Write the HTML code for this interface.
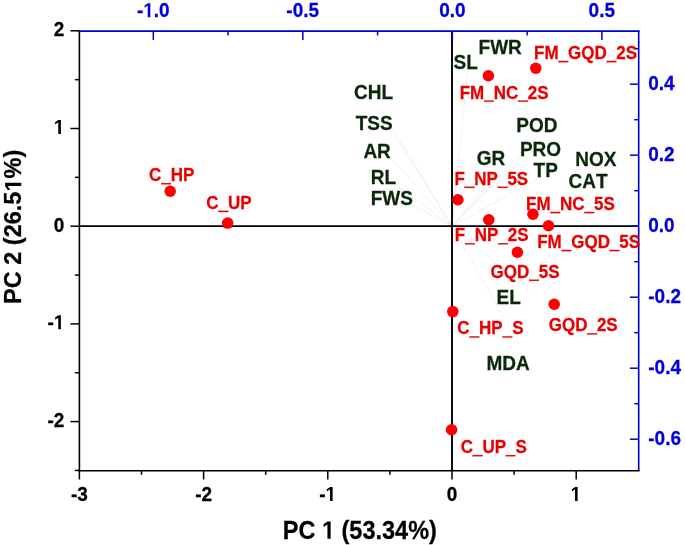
<!DOCTYPE html><html><head><meta charset="utf-8"><style>html,body{margin:0;padding:0;background:#fff;width:685px;height:545px;overflow:hidden}svg{display:block}text{font-family:"Liberation Sans",sans-serif;font-weight:bold;font-kerning:none}</style></head><body><svg style="will-change:transform" width="685" height="545" viewBox="0 0 685 545"><g stroke="#d6d6d6" stroke-width="0.6" stroke-dasharray="1.6,1.2" fill="none"><line x1="452.0" y1="226.2" x2="380.0" y2="107.0"/><line x1="452.0" y1="226.2" x2="392.0" y2="131.0"/><line x1="452.0" y1="226.2" x2="390.0" y2="157.0"/><line x1="452.0" y1="226.2" x2="395.0" y2="184.0"/><line x1="452.0" y1="226.2" x2="411.0" y2="204.0"/><line x1="452.0" y1="226.2" x2="467.5" y2="73.5"/><line x1="452.0" y1="226.2" x2="538.0" y2="135.5"/><line x1="452.0" y1="226.2" x2="520.0" y2="158.0"/><line x1="452.0" y1="226.2" x2="541.0" y2="177.0"/><line x1="452.0" y1="226.2" x2="505.0" y2="164.0"/><line x1="452.0" y1="226.2" x2="532.0" y2="294.0"/><line x1="452.0" y1="226.2" x2="519.0" y2="344.0"/></g><line x1="79.40" y1="226.20" x2="638.70" y2="226.20" stroke="#000" stroke-width="1.7"/><line x1="452.00" y1="31.10" x2="452.00" y2="470.80" stroke="#000" stroke-width="1.9"/><line x1="79.40" y1="31.10" x2="79.40" y2="471.70" stroke="#000" stroke-width="1.6"/><line x1="638.70" y1="31.10" x2="638.70" y2="470.80" stroke="#0000cc" stroke-width="1.6"/><line x1="78.50" y1="31.10" x2="639.60" y2="31.10" stroke="#0000cc" stroke-width="1.6"/><line x1="78.50" y1="470.80" x2="639.60" y2="470.80" stroke="#000" stroke-width="1.6"/><line x1="79.40" y1="470.80" x2="79.40" y2="479.50" stroke="#000" stroke-width="1.5"/><g transform="translate(70.93,500.90) scale(1,1.070)" fill="#000" stroke="#000" stroke-width="0.25"><text x="0.000" y="0" font-size="19.0">-3</text></g><line x1="141.50" y1="470.80" x2="141.50" y2="474.80" stroke="#000" stroke-width="1.5"/><line x1="203.60" y1="470.80" x2="203.60" y2="479.50" stroke="#000" stroke-width="1.5"/><g transform="translate(195.16,500.90) scale(1,1.070)" fill="#000" stroke="#000" stroke-width="0.25"><text x="0.000" y="0" font-size="19.0">-2</text></g><line x1="265.70" y1="470.80" x2="265.70" y2="474.80" stroke="#000" stroke-width="1.5"/><line x1="327.80" y1="470.80" x2="327.80" y2="479.50" stroke="#000" stroke-width="1.5"/><g transform="translate(319.25,500.90) scale(1,1.070)" fill="#000" stroke="#000" stroke-width="0.25"><text x="0.000" y="0" font-size="19.0">-<tspan visibility="hidden">1</tspan></text><path transform="translate(6.327,0) scale(0.00928,-0.00928)" d="M478,0 L478,1170 L140,959 L140,1180 L493,1409 L759,1409 L759,0 Z"/></g><line x1="389.90" y1="470.80" x2="389.90" y2="474.80" stroke="#000" stroke-width="1.5"/><line x1="452.00" y1="470.80" x2="452.00" y2="479.50" stroke="#000" stroke-width="1.5"/><g transform="translate(446.73,500.90) scale(1,1.070)" fill="#000" stroke="#000" stroke-width="0.25"><text x="0.000" y="0" font-size="19.0">0</text></g><line x1="514.10" y1="470.80" x2="514.10" y2="474.80" stroke="#000" stroke-width="1.5"/><line x1="576.20" y1="470.80" x2="576.20" y2="479.50" stroke="#000" stroke-width="1.5"/><g transform="translate(570.58,500.90) scale(1,1.070)" fill="#000" stroke="#000" stroke-width="0.25"><text x="0.000" y="0" font-size="19.0"><tspan visibility="hidden">1</tspan></text><path transform="translate(0.000,0) scale(0.00928,-0.00928)" d="M478,0 L478,1170 L140,959 L140,1180 L493,1409 L759,1409 L759,0 Z"/></g><line x1="79.40" y1="470.45" x2="74.90" y2="470.45" stroke="#000" stroke-width="1.5"/><line x1="79.40" y1="421.60" x2="70.40" y2="421.60" stroke="#000" stroke-width="1.5"/><g transform="translate(64.40,427.00) scale(1,1.070)" fill="#000" stroke="#000" stroke-width="0.25"><text x="-16.894" y="0" font-size="19.0">-2</text></g><line x1="79.40" y1="372.75" x2="74.90" y2="372.75" stroke="#000" stroke-width="1.5"/><line x1="79.40" y1="323.90" x2="70.40" y2="323.90" stroke="#000" stroke-width="1.5"/><g transform="translate(64.40,329.30) scale(1,1.070)" fill="#000" stroke="#000" stroke-width="0.25"><text x="-16.894" y="0" font-size="19.0">-<tspan visibility="hidden">1</tspan></text><path transform="translate(-10.567,0) scale(0.00928,-0.00928)" d="M478,0 L478,1170 L140,959 L140,1180 L493,1409 L759,1409 L759,0 Z"/></g><line x1="79.40" y1="275.05" x2="74.90" y2="275.05" stroke="#000" stroke-width="1.5"/><line x1="79.40" y1="226.20" x2="70.40" y2="226.20" stroke="#000" stroke-width="1.5"/><g transform="translate(64.40,231.60) scale(1,1.070)" fill="#000" stroke="#000" stroke-width="0.25"><text x="-10.567" y="0" font-size="19.0">0</text></g><line x1="79.40" y1="177.35" x2="74.90" y2="177.35" stroke="#000" stroke-width="1.5"/><line x1="79.40" y1="128.50" x2="70.40" y2="128.50" stroke="#000" stroke-width="1.5"/><g transform="translate(64.40,133.90) scale(1,1.070)" fill="#000" stroke="#000" stroke-width="0.25"><text x="-10.567" y="0" font-size="19.0"><tspan visibility="hidden">1</tspan></text><path transform="translate(-10.567,0) scale(0.00928,-0.00928)" d="M478,0 L478,1170 L140,959 L140,1180 L493,1409 L759,1409 L759,0 Z"/></g><line x1="79.40" y1="79.65" x2="74.90" y2="79.65" stroke="#000" stroke-width="1.5"/><line x1="79.40" y1="30.80" x2="70.40" y2="30.80" stroke="#000" stroke-width="1.5"/><g transform="translate(64.40,36.20) scale(1,1.070)" fill="#000" stroke="#000" stroke-width="0.25"><text x="-10.567" y="0" font-size="19.0">2</text></g><line x1="153.30" y1="31.10" x2="153.30" y2="39.90" stroke="#0000cc" stroke-width="1.5"/><g transform="translate(136.95,17.20) scale(1,1.070)" fill="#0000dc" stroke="#0000dc" stroke-width="0.25"><text x="0.000" y="0" font-size="19.0">-<tspan visibility="hidden">1</tspan>.0</text><path transform="translate(6.327,0) scale(0.00928,-0.00928)" d="M478,0 L478,1170 L140,959 L140,1180 L493,1409 L759,1409 L759,0 Z"/></g><line x1="228.07" y1="31.10" x2="228.07" y2="35.50" stroke="#0000cc" stroke-width="1.5"/><line x1="302.84" y1="31.10" x2="302.84" y2="39.90" stroke="#0000cc" stroke-width="1.5"/><g transform="translate(286.36,17.20) scale(1,1.070)" fill="#0000dc" stroke="#0000dc" stroke-width="0.25"><text x="0.000" y="0" font-size="19.0">-0.5</text></g><line x1="377.60" y1="31.10" x2="377.60" y2="35.50" stroke="#0000cc" stroke-width="1.5"/><line x1="452.37" y1="31.10" x2="452.37" y2="39.90" stroke="#0000cc" stroke-width="1.5"/><g transform="translate(439.18,17.20) scale(1,1.070)" fill="#0000dc" stroke="#0000dc" stroke-width="0.25"><text x="0.000" y="0" font-size="19.0">0.0</text></g><line x1="527.14" y1="31.10" x2="527.14" y2="35.50" stroke="#0000cc" stroke-width="1.5"/><line x1="601.90" y1="31.10" x2="601.90" y2="39.90" stroke="#0000cc" stroke-width="1.5"/><g transform="translate(588.59,17.20) scale(1,1.070)" fill="#0000dc" stroke="#0000dc" stroke-width="0.25"><text x="0.000" y="0" font-size="19.0">0.5</text></g><line x1="638.70" y1="439.20" x2="629.90" y2="439.20" stroke="#0000cc" stroke-width="1.5"/><g transform="translate(648.26,444.60) scale(1,1.070)" fill="#0000dc" stroke="#0000dc" stroke-width="0.25"><text x="0.000" y="0" font-size="19.0">-0.6</text></g><line x1="638.70" y1="403.70" x2="634.30" y2="403.70" stroke="#0000cc" stroke-width="1.5"/><line x1="638.70" y1="368.20" x2="629.90" y2="368.20" stroke="#0000cc" stroke-width="1.5"/><g transform="translate(648.26,373.60) scale(1,1.070)" fill="#0000dc" stroke="#0000dc" stroke-width="0.25"><text x="0.000" y="0" font-size="19.0">-0.4</text></g><line x1="638.70" y1="332.70" x2="634.30" y2="332.70" stroke="#0000cc" stroke-width="1.5"/><line x1="638.70" y1="297.20" x2="629.90" y2="297.20" stroke="#0000cc" stroke-width="1.5"/><g transform="translate(648.26,302.60) scale(1,1.070)" fill="#0000dc" stroke="#0000dc" stroke-width="0.25"><text x="0.000" y="0" font-size="19.0">-0.2</text></g><line x1="638.70" y1="261.70" x2="634.30" y2="261.70" stroke="#0000cc" stroke-width="1.5"/><line x1="638.70" y1="226.20" x2="629.90" y2="226.20" stroke="#0000cc" stroke-width="1.5"/><g transform="translate(648.25,231.60) scale(1,1.070)" fill="#0000dc" stroke="#0000dc" stroke-width="0.25"><text x="0.000" y="0" font-size="19.0">0.0</text></g><line x1="638.70" y1="190.70" x2="634.30" y2="190.70" stroke="#0000cc" stroke-width="1.5"/><line x1="638.70" y1="155.20" x2="629.90" y2="155.20" stroke="#0000cc" stroke-width="1.5"/><g transform="translate(648.25,160.60) scale(1,1.070)" fill="#0000dc" stroke="#0000dc" stroke-width="0.25"><text x="0.000" y="0" font-size="19.0">0.2</text></g><line x1="638.70" y1="119.70" x2="634.30" y2="119.70" stroke="#0000cc" stroke-width="1.5"/><line x1="638.70" y1="84.20" x2="629.90" y2="84.20" stroke="#0000cc" stroke-width="1.5"/><g transform="translate(648.25,89.60) scale(1,1.070)" fill="#0000dc" stroke="#0000dc" stroke-width="0.25"><text x="0.000" y="0" font-size="19.0">0.4</text></g><line x1="638.70" y1="48.70" x2="634.30" y2="48.70" stroke="#0000cc" stroke-width="1.5"/><circle cx="170.20" cy="191.20" r="5.75" fill="#ff0000"/><circle cx="227.70" cy="223.10" r="5.75" fill="#ff0000"/><circle cx="488.40" cy="75.70" r="5.75" fill="#ff0000"/><circle cx="535.80" cy="68.20" r="5.75" fill="#ff0000"/><circle cx="457.90" cy="199.70" r="5.75" fill="#ff0000"/><circle cx="488.80" cy="219.80" r="5.75" fill="#ff0000"/><circle cx="532.95" cy="214.30" r="5.75" fill="#ff0000"/><circle cx="548.50" cy="225.80" r="5.75" fill="#ff0000"/><circle cx="517.40" cy="252.20" r="5.75" fill="#ff0000"/><circle cx="452.80" cy="311.60" r="5.75" fill="#ff0000"/><circle cx="554.20" cy="304.30" r="5.75" fill="#ff0000"/><circle cx="451.60" cy="429.70" r="5.75" fill="#ff0000"/><g transform="translate(353.97,98.65) scale(1,1.070)" fill="#0a280a" stroke="#0a280a" stroke-width="0.25"><text x="0.000" y="0" font-size="19.0">CHL</text></g><g transform="translate(355.64,129.65) scale(1,1.070)" fill="#0a280a" stroke="#0a280a" stroke-width="0.25"><text x="0.000" y="0" font-size="19.0">TSS</text></g><g transform="translate(363.38,157.95) scale(1,1.070)" fill="#0a280a" stroke="#0a280a" stroke-width="0.25"><text x="0.000" y="0" font-size="19.0">AR</text></g><g transform="translate(370.78,184.05) scale(1,1.070)" fill="#0a280a" stroke="#0a280a" stroke-width="0.25"><text x="0.000" y="0" font-size="19.0">RL</text></g><g transform="translate(370.78,204.75) scale(1,1.070)" fill="#0a280a" stroke="#0a280a" stroke-width="0.25"><text x="0.000" y="0" font-size="19.0">FWS</text></g><g transform="translate(478.58,53.55) scale(1,1.070)" fill="#0a280a" stroke="#0a280a" stroke-width="0.25"><text x="0.000" y="0" font-size="19.0">FWR</text></g><g transform="translate(453.60,68.65) scale(1,1.070)" fill="#0a280a" stroke="#0a280a" stroke-width="0.25"><text x="0.000" y="0" font-size="19.0">SL</text></g><g transform="translate(516.28,132.45) scale(1,1.070)" fill="#0a280a" stroke="#0a280a" stroke-width="0.25"><text x="0.000" y="0" font-size="19.0">POD</text></g><g transform="translate(519.88,156.35) scale(1,1.070)" fill="#0a280a" stroke="#0a280a" stroke-width="0.25"><text x="0.000" y="0" font-size="19.0">PRO</text></g><g transform="translate(533.54,177.25) scale(1,1.070)" fill="#0a280a" stroke="#0a280a" stroke-width="0.25"><text x="0.000" y="0" font-size="19.0">TP</text></g><g transform="translate(476.77,164.55) scale(1,1.070)" fill="#0a280a" stroke="#0a280a" stroke-width="0.25"><text x="0.000" y="0" font-size="19.0">GR</text></g><g transform="translate(575.18,165.85) scale(1,1.070)" fill="#0a280a" stroke="#0a280a" stroke-width="0.25"><text x="0.000" y="0" font-size="19.0">NOX</text></g><g transform="translate(568.47,188.25) scale(1,1.070)" fill="#0a280a" stroke="#0a280a" stroke-width="0.25"><text x="0.000" y="0" font-size="19.0">CAT</text></g><g transform="translate(496.58,303.75) scale(1,1.070)" fill="#0a280a" stroke="#0a280a" stroke-width="0.25"><text x="0.000" y="0" font-size="19.0">EL</text></g><g transform="translate(486.48,370.35) scale(1,1.070)" fill="#0a280a" stroke="#0a280a" stroke-width="0.25"><text x="0.000" y="0" font-size="19.0">MDA</text></g><g transform="translate(534.11,59.05) scale(1,1.070)" fill="#e80000" stroke="#e80000" stroke-width="0.25"><text x="0.000" y="0" font-size="17.0">FM<tspan visibility="hidden">_</tspan>GQD<tspan visibility="hidden">_</tspan>2S</text><rect x="24.379" y="1.785" width="9.770" height="1.105"/><rect x="72.557" y="1.785" width="9.770" height="1.105"/></g><g transform="translate(459.71,98.65) scale(1,1.070)" fill="#e80000" stroke="#e80000" stroke-width="0.25"><text x="0.000" y="0" font-size="17.0">FM<tspan visibility="hidden">_</tspan>NC<tspan visibility="hidden">_</tspan>2S</text><rect x="24.379" y="1.785" width="9.770" height="1.105"/><rect x="58.388" y="1.785" width="9.770" height="1.105"/></g><g transform="translate(454.51,184.85) scale(1,1.070)" fill="#e80000" stroke="#e80000" stroke-width="0.25"><text x="0.000" y="0" font-size="17.0">F<tspan visibility="hidden">_</tspan>NP<tspan visibility="hidden">_</tspan>5S</text><rect x="10.218" y="1.785" width="9.770" height="1.105"/><rect x="43.289" y="1.785" width="9.770" height="1.105"/></g><g transform="translate(526.01,210.05) scale(1,1.070)" fill="#e80000" stroke="#e80000" stroke-width="0.25"><text x="0.000" y="0" font-size="17.0">FM<tspan visibility="hidden">_</tspan>NC<tspan visibility="hidden">_</tspan>5S</text><rect x="24.379" y="1.785" width="9.770" height="1.105"/><rect x="58.388" y="1.785" width="9.770" height="1.105"/></g><g transform="translate(454.81,241.25) scale(1,1.070)" fill="#e80000" stroke="#e80000" stroke-width="0.25"><text x="0.000" y="0" font-size="17.0">F<tspan visibility="hidden">_</tspan>NP<tspan visibility="hidden">_</tspan>2S</text><rect x="10.218" y="1.785" width="9.770" height="1.105"/><rect x="43.289" y="1.785" width="9.770" height="1.105"/></g><g transform="translate(537.21,248.05) scale(1,1.070)" fill="#e80000" stroke="#e80000" stroke-width="0.25"><text x="0.000" y="0" font-size="17.0">FM<tspan visibility="hidden">_</tspan>GQD<tspan visibility="hidden">_</tspan>5S</text><rect x="24.379" y="1.785" width="9.770" height="1.105"/><rect x="72.557" y="1.785" width="9.770" height="1.105"/></g><g transform="translate(490.55,277.85) scale(1,1.070)" fill="#e80000" stroke="#e80000" stroke-width="0.25"><text x="0.000" y="0" font-size="17.0">GQD<tspan visibility="hidden">_</tspan>5S</text><rect x="38.557" y="1.785" width="9.770" height="1.105"/></g><g transform="translate(457.35,334.45) scale(1,1.070)" fill="#e80000" stroke="#e80000" stroke-width="0.25"><text x="0.000" y="0" font-size="17.0">C<tspan visibility="hidden">_</tspan>HP<tspan visibility="hidden">_</tspan>S</text><rect x="12.111" y="1.785" width="9.770" height="1.105"/><rect x="45.181" y="1.785" width="9.770" height="1.105"/></g><g transform="translate(548.75,331.35) scale(1,1.070)" fill="#e80000" stroke="#e80000" stroke-width="0.25"><text x="0.000" y="0" font-size="17.0">GQD<tspan visibility="hidden">_</tspan>2S</text><rect x="38.557" y="1.785" width="9.770" height="1.105"/></g><g transform="translate(460.65,453.15) scale(1,1.070)" fill="#e80000" stroke="#e80000" stroke-width="0.25"><text x="0.000" y="0" font-size="17.0">C<tspan visibility="hidden">_</tspan>UP<tspan visibility="hidden">_</tspan>S</text><rect x="12.111" y="1.785" width="9.770" height="1.105"/><rect x="45.181" y="1.785" width="9.770" height="1.105"/></g><g transform="translate(149.05,181.15) scale(1,1.070)" fill="#e80000" stroke="#e80000" stroke-width="0.25"><text x="0.000" y="0" font-size="17.0">C<tspan visibility="hidden">_</tspan>HP</text><rect x="12.111" y="1.785" width="9.770" height="1.105"/></g><g transform="translate(206.35,208.95) scale(1,1.070)" fill="#e80000" stroke="#e80000" stroke-width="0.25"><text x="0.000" y="0" font-size="17.0">C<tspan visibility="hidden">_</tspan>UP</text><rect x="12.111" y="1.785" width="9.770" height="1.105"/></g><g transform="translate(282.78,538.75) scale(1,1.070)" fill="#000" stroke="#000" stroke-width="0.25"><text x="0.000" y="0" font-size="23.5">PC <tspan visibility="hidden">1</tspan> (53.34%)</text><path transform="translate(39.174,0) scale(0.01147,-0.01147)" d="M478,0 L478,1170 L140,959 L140,1180 L493,1409 L759,1409 L759,0 Z"/></g><g transform="translate(21.22,303.91) rotate(-90) scale(1,1.000)" fill="#000" stroke="#000" stroke-width="0.25"><text x="0.000" y="0" font-size="23.5">PC 2 (26.5<tspan visibility="hidden">1</tspan>%)</text><path transform="translate(112.336,0) scale(0.01147,-0.01147)" d="M478,0 L478,1170 L140,959 L140,1180 L493,1409 L759,1409 L759,0 Z"/></g></svg></body></html>
